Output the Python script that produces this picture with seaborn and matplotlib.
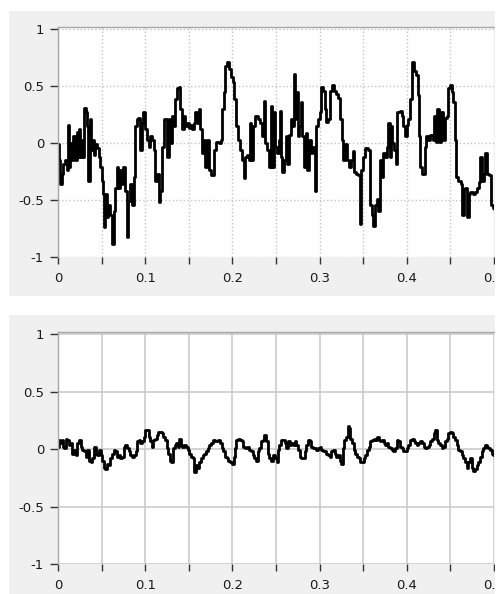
import numpy as np
import pandas as pd
import matplotlib
matplotlib.use("Agg")
import matplotlib.pyplot as plt
from matplotlib.patches import Rectangle
import seaborn as sns

# ---------------- data ----------------
top_t = [0.000, 0.0011, 0.0027, 0.0042, 0.0061, 0.008, 0.010, 0.011, 0.0126, 0.0142,
         0.0157, 0.0176, 0.0195, 0.0215, 0.0226, 0.0241, 0.0257, 0.0272, 0.0287, 0.0303,
         0.0322, 0.0337, 0.0349, 0.0364, 0.0379, 0.0395, 0.041, 0.0425, 0.0448, 0.047,
         0.0487, 0.0502, 0.0513, 0.0525, 0.054, 0.056, 0.0579, 0.0602, 0.062, 0.064,
         0.0655, 0.0674, 0.0693, 0.0713, 0.0732, 0.0751, 0.077, 0.0789, 0.0808, 0.0828,
         0.0847, 0.0866, 0.0885, 0.0904, 0.0923, 0.0943, 0.0962, 0.098, 0.1, 0.1019,
         0.1038, 0.1057, 0.1077, 0.1096, 0.1115, 0.1134, 0.1153, 0.1172, 0.1192, 0.1211,
         0.1249, 0.1268, 0.1287, 0.1307, 0.1326, 0.1345, 0.1364, 0.1383, 0.1402, 0.1421,
         0.1441, 0.146, 0.1479, 0.1498, 0.1517, 0.1536, 0.1556, 0.1575, 0.1594, 0.1613,
         0.1632, 0.1651, 0.167, 0.169, 0.1709, 0.1728, 0.1755, 0.1785, 0.1812, 0.1843,
         0.1866, 0.1881, 0.1900, 0.1920, 0.1939, 0.1958, 0.1981, 0.2004, 0.2023, 0.2042,
         0.2065, 0.2088, 0.2111, 0.2130, 0.2149, 0.2169, 0.2188, 0.2203, 0.2218, 0.2238,
         0.2264, 0.2295, 0.2322, 0.2341, 0.2364, 0.2379, 0.2398, 0.2418, 0.2437, 0.2456,
         0.2475, 0.2494, 0.2513, 0.2533, 0.2544, 0.2556, 0.2571, 0.259, 0.2609, 0.2628,
         0.2648, 0.2667, 0.2686, 0.2701, 0.2716, 0.2732, 0.2747, 0.2762, 0.2782, 0.2801,
         0.282, 0.2839, 0.2858, 0.2877, 0.2897, 0.2916, 0.2931, 0.2946, 0.2962, 0.2981,
         0.3, 0.3019, 0.3038, 0.3057, 0.3077, 0.31, 0.3123, 0.3146, 0.3169, 0.3192,
         0.3215, 0.3238, 0.3253, 0.3272, 0.3291, 0.3314, 0.3337, 0.336, 0.3379, 0.3398,
         0.3421, 0.3444, 0.346, 0.3475, 0.3498, 0.3521, 0.3552, 0.3575, 0.3598, 0.3617,
         0.3636, 0.3655, 0.3674, 0.3693, 0.3713, 0.3732, 0.3751, 0.3770, 0.3789, 0.3805,
         0.382, 0.3835, 0.3854, 0.3874, 0.3893, 0.392, 0.3943, 0.3962, 0.3981, 0.4,
         0.4019, 0.4038, 0.4057, 0.408, 0.4103, 0.4123, 0.4142, 0.4157, 0.418, 0.4203,
         0.4222, 0.4245, 0.4268, 0.4295, 0.4314, 0.4333, 0.4352, 0.4372, 0.4391, 0.441,
         0.4433, 0.4456, 0.4471, 0.449, 0.4513, 0.4533, 0.4548, 0.4567, 0.459, 0.4617,
         0.4632, 0.4651, 0.4670, 0.4690, 0.4709, 0.4728, 0.4755, 0.4782, 0.4805, 0.4824,
         0.4843, 0.4862, 0.4881, 0.49, 0.4923, 0.4943, 0.4962, 0.4985, 0.5]
top_v = [-0.01, -0.15, -0.36, -0.27, -0.18, -0.15, -0.24, 0.16, -0.21, 0.0,
         -0.15, 0.06, -0.15, 0.10, -0.12, 0.12, -0.12, 0.03, -0.12, 0.31,
         0.27, 0.15, -0.33, 0.21, -0.06, 0.03, -0.10, -0.01, -0.04, -0.12,
         -0.21, -0.33, -0.45, -0.74, -0.45, -0.65, -0.54, -0.63, -0.89, -0.60,
         -0.39, -0.21, -0.39, -0.24, -0.36, -0.21, -0.42, -0.82, -0.51, -0.36,
         -0.54, -0.30, 0.15, 0.21, 0.22, -0.06, 0.18, 0.27, 0.12, 0.03,
         -0.03, 0.06, 0.03, -0.06, -0.33, -0.27, -0.52, -0.42, -0.03, 0.21,
         -0.12, 0.21, 0.0, 0.24, 0.15, 0.39, 0.48, 0.49, 0.30, 0.12,
         0.24, 0.15, 0.18, 0.13, 0.16, 0.12, 0.18, 0.27, 0.18, 0.30,
         0.12, -0.09, 0.03, -0.21, 0.03, -0.24, -0.28, -0.06, 0.01, 0.0,
         0.03, 0.30, 0.45, 0.68, 0.71, 0.65, 0.58, 0.54, 0.39, 0.15,
         0.03, -0.06, -0.15, -0.31, -0.12, -0.10, -0.15, 0.18, -0.15, 0.15,
         0.24, 0.21, 0.18, 0.06, 0.37, 0.0, -0.06, -0.21, 0.33, -0.21,
         0.27, -0.03, -0.09, 0.03, 0.28, -0.12, -0.25, -0.15, 0.06, -0.18,
         0.07, 0.21, 0.15, 0.61, 0.21, 0.45, 0.06, 0.15, 0.36, 0.06,
         -0.21, 0.09, -0.24, 0.03, -0.09, -0.03, -0.09, -0.42, 0.15, 0.21,
         0.27, 0.49, 0.46, 0.30, 0.19, 0.21, 0.46, 0.51, 0.46, 0.43,
         0.40, 0.21, 0.03, -0.15, -0.01, -0.15, -0.21, -0.15, -0.07, -0.25,
         -0.27, -0.28, -0.71, -0.24, -0.12, -0.04, -0.06, -0.54, -0.63, -0.73,
         -0.54, -0.49, -0.60, -0.15, -0.30, -0.09, -0.12, -0.03, 0.18, -0.12,
         0.15, 0.0, -0.06, -0.18, 0.27, 0.28, 0.24, 0.15, 0.06, 0.16,
         0.21, 0.39, 0.71, 0.63, 0.60, 0.42, 0.06, -0.21, -0.27, -0.03,
         0.06, 0.03, 0.07, 0.03, 0.24, 0.01, 0.30, 0.01, 0.27, 0.03,
         0.22, 0.24, 0.48, 0.51, 0.45, 0.36, 0.03, -0.30, -0.33, -0.36,
         -0.63, -0.40, -0.39, -0.65, -0.45, -0.43, -0.45, -0.43, -0.39, -0.34,
         -0.12, -0.33, -0.27, -0.09, -0.27, -0.28, -0.54, -0.57, -0.58]

bot_t = [0.0, 0.0011, 0.0027, 0.0042, 0.0061, 0.0073, 0.0088, 0.0107, 0.0126, 0.0146,
         0.0165, 0.0184, 0.0203, 0.0222, 0.0241, 0.0261, 0.028, 0.0299, 0.0318, 0.0337,
         0.0356, 0.0375, 0.0395, 0.0414, 0.0433, 0.0452, 0.0471, 0.049, 0.051, 0.0529,
         0.0544, 0.0563, 0.0582, 0.0602, 0.0621, 0.064, 0.0659, 0.0678, 0.0697, 0.0716,
         0.0736, 0.0755, 0.0774, 0.0793, 0.0812, 0.0831, 0.0851, 0.087, 0.0889, 0.0908,
         0.0927, 0.0946, 0.0966, 0.0985, 0.1, 0.1019, 0.1038, 0.1054, 0.1073, 0.1092,
         0.1111, 0.113, 0.1149, 0.1169, 0.1188, 0.1207, 0.1226, 0.1245, 0.126, 0.128,
         0.1299, 0.1318, 0.1337, 0.1356, 0.1375, 0.1387, 0.1406, 0.1425, 0.1444, 0.1467,
         0.1487, 0.1506, 0.1525, 0.1544, 0.1563, 0.1582, 0.1602, 0.1621, 0.164, 0.1659,
         0.1678, 0.1697, 0.1716, 0.1736, 0.1755, 0.1774, 0.1805, 0.1835, 0.1858, 0.1877,
         0.1897, 0.1916, 0.1935, 0.1954, 0.1973, 0.1996, 0.2015, 0.2031, 0.2046, 0.2065,
         0.2088, 0.2107, 0.2126, 0.2149, 0.2172, 0.2195, 0.2215, 0.2234, 0.2253, 0.2272,
         0.2291, 0.2310, 0.233, 0.2349, 0.2368, 0.2387, 0.2406, 0.2425, 0.2444, 0.2464,
         0.2483, 0.2506, 0.2525, 0.254, 0.2559, 0.2579, 0.2598, 0.2617, 0.2636, 0.2655,
         0.2674, 0.2693, 0.2713, 0.2732, 0.2751, 0.277, 0.2789, 0.2808, 0.2828, 0.2847,
         0.2866, 0.2885, 0.2904, 0.2923, 0.2943, 0.2962, 0.2981, 0.3, 0.3019, 0.3038,
         0.3057, 0.3077, 0.3096, 0.3115, 0.3134, 0.3153, 0.3172, 0.3192, 0.3211, 0.323,
         0.3249, 0.3268, 0.3284, 0.3303, 0.3322, 0.3337, 0.3352, 0.3372, 0.3391, 0.341,
         0.3429, 0.3448, 0.3467, 0.3487, 0.3506, 0.3525, 0.3544, 0.3563, 0.3582, 0.3602,
         0.3621, 0.364, 0.3659, 0.3678, 0.3697, 0.3716, 0.3736, 0.3755, 0.3774, 0.3789,
         0.3808, 0.3828, 0.3847, 0.3866, 0.3885, 0.3904, 0.3923, 0.3943, 0.3962, 0.3981,
         0.4, 0.4019, 0.4038, 0.4057, 0.4077, 0.4096, 0.4115, 0.4134, 0.4153, 0.4172,
         0.4192, 0.4211, 0.423, 0.4249, 0.4268, 0.4287, 0.4307, 0.4326, 0.4341, 0.436,
         0.4379, 0.4398, 0.4418, 0.4437, 0.4456, 0.4475, 0.4494, 0.4513, 0.4533, 0.4552,
         0.4571, 0.459, 0.4609, 0.4628, 0.4648, 0.4667, 0.4686, 0.4705, 0.4724, 0.4743,
         0.4762, 0.4782, 0.4801, 0.482, 0.4839, 0.4858, 0.4877, 0.4897, 0.4916, 0.4935,
         0.4954, 0.4973, 0.4992]
bot_v = [0.02, 0.08, 0.05, 0.08, 0.02, 0.01, 0.09, 0.08, 0.04, 0.05,
         -0.04, -0.01, -0.05, 0.05, 0.08, 0.02, -0.01, -0.02, -0.07, -0.01,
         -0.10, -0.11, -0.08, 0.02, -0.04, -0.05, -0.01, -0.05, -0.10, -0.16,
         -0.17, -0.13, -0.14, -0.08, -0.04, -0.01, -0.02, -0.07, -0.05, -0.08,
         -0.07, 0.02, 0.04, 0.01, -0.02, -0.05, -0.07, -0.05, -0.02, 0.07,
         0.08, 0.05, 0.07, 0.11, 0.17, 0.17, 0.11, 0.07, 0.02, 0.08,
         0.09, 0.12, 0.15, 0.15, 0.14, 0.11, 0.08, 0.01, -0.04, -0.10,
         -0.11, 0.01, 0.04, 0.05, 0.02, 0.09, 0.04, 0.02, 0.04, 0.02,
         -0.01, -0.04, -0.07, -0.08, -0.20, -0.14, -0.16, -0.11, -0.08, -0.05,
         -0.04, -0.02, 0.01, 0.04, 0.05, 0.08, 0.07, 0.08, 0.05, 0.01,
         -0.02, -0.07, -0.08, -0.10, -0.11, -0.13, -0.07, 0.01, 0.08, 0.09,
         0.08, 0.07, 0.02, 0.01, 0.02, -0.01, -0.02, -0.05, -0.08, -0.10,
         -0.02, 0.01, 0.07, 0.08, 0.12, 0.07, -0.04, -0.08, -0.10, -0.05,
         -0.08, -0.11, -0.01, 0.04, 0.08, 0.08, 0.05, 0.01, 0.07, 0.04,
         0.05, 0.04, 0.07, 0.04, -0.01, -0.07, -0.08, -0.08, -0.02, 0.04,
         0.08, 0.07, 0.02, 0.01, 0.01, -0.01, 0.01, 0.02, -0.01, -0.02,
         -0.02, -0.04, -0.05, -0.07, -0.02, -0.01, -0.04, -0.07, -0.05, -0.10,
         -0.13, 0.01, 0.08, 0.11, 0.20, 0.18, 0.09, 0.05, -0.01, -0.04,
         -0.07, -0.08, -0.11, -0.11, -0.08, -0.05, -0.01, 0.02, 0.07, 0.08,
         0.09, 0.08, 0.11, 0.08, 0.07, 0.08, 0.05, 0.04, 0.05, 0.02,
         0.01, -0.01, -0.02, 0.01, 0.08, 0.07, 0.02, 0.01, -0.02, -0.02,
         0.01, 0.04, 0.08, 0.09, 0.07, 0.05, 0.04, 0.05, 0.07, 0.05,
         0.02, 0.01, 0.02, 0.04, 0.07, 0.09, 0.14, 0.17, 0.08, 0.05,
         0.04, 0.01, 0.02, 0.07, 0.09, 0.14, 0.15, 0.14, 0.11, 0.08,
         0.04, -0.01, -0.02, -0.05, -0.08, -0.11, -0.16, -0.11, -0.08, -0.16,
         -0.19, -0.17, -0.14, -0.11, -0.07, -0.02, 0.01, 0.04, 0.02, 0.01,
         -0.01, -0.04, -0.05]

x_ticks = [0.0, 0.05, 0.1, 0.15, 0.2, 0.25, 0.3, 0.35, 0.4, 0.45, 0.5]
x_labels = ["0", "", "0.1", "", "0.2", "", "0.3", "", "0.4", "", "0.5"]
y_ticks = [-1, -0.5, 0, 0.5, 1]
y_labels = ["-1", "-0.5", "0", "0.5", "1"]

# ---------------- figure ----------------
sns.set_theme(style="white")
plt.rcParams["font.family"] = ["DejaVu Sans"]

W, H = 500, 594
fig = plt.figure(figsize=(W / 100, H / 100), dpi=100, facecolor="white")

panel_gray = "#f0f0f0"
fig.add_artist(Rectangle((9 / W, 1 - 296 / H), (495 - 9) / W, (296 - 11) / H,
                         transform=fig.transFigure, facecolor=panel_gray,
                         edgecolor="none", zorder=-10))
fig.add_artist(Rectangle((9 / W, 0), (495 - 9) / W, 1 - 315 / H,
                         transform=fig.transFigure, facecolor=panel_gray,
                         edgecolor="none", zorder=-10))

def px_axes(left, top, right, bottom):
    return [left / W, 1 - bottom / H, (right - left) / W, (bottom - top) / H]

ax1 = fig.add_axes(px_axes(58, 27, 494, 257))
ax2 = fig.add_axes(px_axes(58, 332, 494, 564))

df_top = pd.DataFrame({"t": top_t, "v": top_v})
df_bot = pd.DataFrame({"t": bot_t, "v": bot_v})

sns.lineplot(data=df_top, x="t", y="v", ax=ax1, color="black", lw=2.0,
             drawstyle="steps-post", estimator=None, sort=False)
sns.lineplot(data=df_bot, x="t", y="v", ax=ax2, color="black", lw=2.0,
             drawstyle="steps-post", estimator=None, sort=False)

for ax, gstyle, gcol, glw in [(ax1, ":", "#c4c4c4", 1.0), (ax2, "-", "#c8c8c8", 1.1)]:
    ax.set_facecolor("white")
    ax.set_xlim(0, 0.5)
    ax.set_ylim(-1, 1.02)
    ax.set_xticks(x_ticks)
    ax.set_xticklabels(x_labels)
    ax.set_yticks(y_ticks)
    ax.set_yticklabels(y_labels)
    ax.set_xlabel("")
    ax.set_ylabel("")
    ax.grid(True, linestyle=gstyle, color=gcol, lw=glw)
    ax.set_axisbelow(True)
    for s in ["bottom", "right"]:
        ax.spines[s].set_visible(False)
    for s in ["left", "top"]:
        ax.spines[s].set_visible(True)
        ax.spines[s].set_color("#a8a8a8")
        ax.spines[s].set_linewidth(1.0)
    ax.tick_params(axis="x", direction="out", length=5, width=1, color="#333333",
                   pad=6, labelsize=9.5, labelcolor="#1a1a1a", bottom=True)
    ax.tick_params(axis="y", direction="out", length=6, width=1, color="#333333",
                   pad=4, labelsize=9.5, labelcolor="#1a1a1a", left=True)

# white strip on the right edge (panel border), as in the reference
fig.add_artist(Rectangle((495 / W, 0), 1 - 495 / W, 1, transform=fig.transFigure,
                         facecolor="white", edgecolor="none", zorder=50))
fig.savefig("out.png", dpi=100, facecolor="white")
